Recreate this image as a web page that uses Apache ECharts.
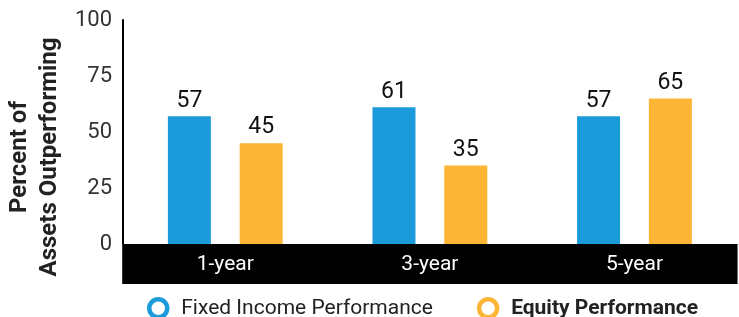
<!DOCTYPE html>
<html><head><meta charset="utf-8">
<script src="https://cdn.jsdelivr.net/npm/echarts@6/dist/echarts.min.js"></script>
<style>html,body{margin:0;padding:0;background:#fff}#c{width:739px;height:317px}</style>
</head><body><div id="c"></div>
<script>
const categories = ['1-year', '3-year', '5-year'];
const fixedIncome = [57, 61, 57];
const equity = [45, 35, 65];
const seriesNames = ['Fixed Income Performance', 'Equity Performance'];
const yTicks = [0, 25, 50, 75, 100];
const yTitle = 'Percent of\nAssets Outperforming';

const BLUE = '#1c9bdb', ORANGE = '#fdb536';
const chart = echarts.init(document.getElementById('c'), null, {renderer: 'canvas'});
const gridLeft = 123, gridRight = -7;
const catW = (739 - gridLeft - gridRight) / categories.length;

chart.setOption({
  animation: false,
  textStyle: {fontFamily: 'Roboto'},
  grid: {left: gridLeft, right: gridRight, top: 20, bottom: 73, containLabel: false},
  legend: {
    left: 142, top: 292,
    itemWidth: 36, itemHeight: 18, itemGap: 44,
    data: [
      {name: seriesNames[0], icon: 'circle', itemStyle: {color: '#fff', borderColor: BLUE, borderWidth: 4.5}},
      {name: seriesNames[1], icon: 'circle', itemStyle: {color: '#fff', borderColor: ORANGE, borderWidth: 4.5}}
    ],
    formatter: n => n === seriesNames[1] ? '{b|' + n + '}' : '{n|' + n + '}',
    textStyle: {
      fontFamily: 'Roboto',
      rich: {
        n: {fontSize: 21, color: '#222', fontFamily: 'Roboto'},
        b: {fontSize: 21, color: '#222', fontWeight: 'bold', fontFamily: 'Roboto'}
      }
    }
  },
  xAxis: {
    type: 'category',
    data: categories,
    axisLine: {show: false},
    axisTick: {show: false},
    axisLabel: {
      margin: 0,
      width: catW - 1.5,
      height: 40,
      lineHeight: 42,
      backgroundColor: '#000',
      color: '#fff',
      fontSize: 21,
      fontFamily: 'Roboto',
      align: 'center',
      verticalAlign: 'top',
      interval: 0
    }
  },
  yAxis: {
    type: 'value',
    min: yTicks[0], max: yTicks[yTicks.length - 1], interval: 25,
    axisLine: {show: true, lineStyle: {color: '#000', width: 2}},
    axisTick: {show: false},
    splitLine: {show: false},
    axisLabel: {margin: 11, fontSize: 22, color: '#333', fontFamily: 'Roboto'}
  },
  graphic: [{
    type: 'text',
    x: 35, y: 157,
    rotation: Math.PI / 2,
    style: {
      text: yTitle,
      fontSize: 24,
      fontWeight: 'bold',
      fontFamily: 'Roboto',
      fill: '#222',
      lineHeight: 30,
      align: 'center',
      verticalAlign: 'middle'
    }
  }],
  series: [
    {
      name: seriesNames[0], type: 'bar', data: fixedIncome,
      barWidth: 43, barGap: '67%',
      itemStyle: {color: BLUE},
      label: {show: true, position: 'top', distance: 4, fontSize: 23, color: '#111', fontFamily: 'Roboto'}
    },
    {
      name: seriesNames[1], type: 'bar', data: equity,
      barWidth: 43, barGap: '67%',
      itemStyle: {color: ORANGE},
      label: {show: true, position: 'top', distance: 4, fontSize: 23, color: '#111', fontFamily: 'Roboto'}
    }
  ]
});
</script>
</body></html>
